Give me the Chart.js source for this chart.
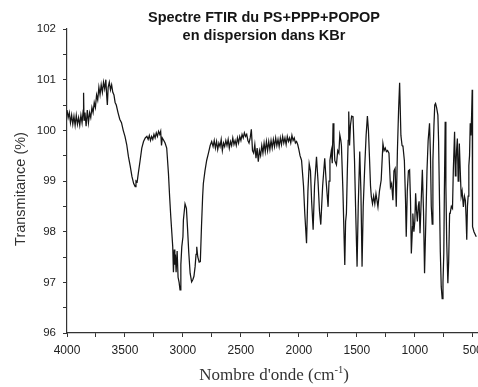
<!DOCTYPE html>
<html>
<head>
<meta charset="utf-8">
<script src="https://cdn.jsdelivr.net/npm/chart.js@4.4.1/dist/chart.umd.min.js"></script>
<style>
    html, body { margin: 0; padding: 0; background: #fff; }
    #wrap { width: 478px; height: 387px; position: relative; }
</style>
</head>
<body>
<div id="wrap"><canvas id="ftirChart"></canvas></div>
<script>
// Spectre FTIR
const titleLines = ['Spectre FTIR du PS+PPP+POPOP', 'en dispersion dans KBr'];
const yAxisTitle = 'Transmitance (%)';
const xAxisTitle = "Nombre d'onde (cm";
const xAxisSup = '-1';

const wavenumbers = [
    4000, 3990, 3980, 3970, 3960, 3950, 3940, 3930, 3920, 3910, 3900, 3890, 3880, 3870, 3860, 3857, 3853,
    3845, 3835, 3825, 3815, 3805, 3795, 3785, 3775, 3765, 3755, 3745, 3735, 3725, 3715, 3705, 3695, 3685,
    3675, 3665, 3658, 3652, 3645, 3635, 3625, 3615, 3605, 3595, 3585, 3575, 3560, 3545, 3530, 3515, 3500,
    3485, 3470, 3455, 3440, 3425, 3412, 3405, 3395, 3385, 3369, 3355, 3340, 3325, 3311, 3300, 3290, 3280,
    3270, 3260, 3250, 3240, 3230, 3220, 3210, 3200, 3192, 3185, 3178, 3165, 3154, 3140, 3125, 3115, 3105,
    3095, 3088, 3082, 3075, 3070, 3065, 3059, 3050, 3042, 3033, 3025, 3018, 3010, 3000, 2996, 2982, 2970,
    2960, 2950, 2938, 2925, 2915, 2905, 2895, 2887, 2881, 2872, 2860, 2850, 2840, 2830, 2824, 2810, 2795,
    2780, 2765, 2752, 2740, 2730, 2720, 2710, 2700, 2690, 2680, 2670, 2660, 2650, 2640, 2630, 2620, 2610,
    2600, 2590, 2580, 2570, 2560, 2550, 2540, 2530, 2520, 2510, 2500, 2490, 2480, 2470, 2460, 2450, 2440,
    2430, 2420, 2410, 2400, 2390, 2380, 2370, 2360, 2350, 2340, 2330, 2320, 2310, 2300, 2290, 2280, 2270,
    2260, 2250, 2240, 2230, 2220, 2210, 2200, 2190, 2180, 2170, 2160, 2150, 2140, 2130, 2120, 2110, 2100,
    2090, 2080, 2070, 2060, 2050, 2040, 2030, 2020, 2010, 2000, 1990, 1977, 1960, 1949, 1934, 1922, 1911,
    1900, 1890, 1877, 1865, 1848, 1835, 1822, 1811, 1795, 1777, 1765, 1748, 1740, 1732, 1720, 1712, 1705,
    1698, 1690, 1676, 1665, 1655, 1647, 1638, 1633, 1620, 1604, 1597, 1590, 1582, 1575, 1570, 1563, 1555,
    1545, 1533, 1520, 1510, 1498, 1488, 1475, 1465, 1455, 1445, 1432, 1420, 1409, 1400, 1390, 1382, 1375,
    1365, 1355, 1345, 1335, 1318, 1305, 1290, 1275, 1265, 1255, 1245, 1235, 1223, 1210, 1200, 1189, 1180,
    1170, 1160, 1150, 1140, 1131, 1120, 1110, 1102, 1090, 1080, 1074, 1065, 1055, 1045, 1037, 1030, 1020,
    1017, 1008, 1000, 993, 985, 978, 970, 963, 955, 945, 935, 925, 916, 905, 895, 885, 873, 865, 858,
    850, 844, 835, 828, 821, 812, 801, 795, 787, 780, 772, 764, 757, 750, 745, 738, 732, 725, 715, 708,
    700, 695, 685, 675, 668, 657, 650, 645, 640, 633, 626, 620, 616, 608, 600, 592, 581, 572, 564, 558,
    552, 546, 540, 534, 528, 522, 516, 510, 505, 502, 490, 470
];

const transmittance = [
    100.40, 100.25, 100.35, 100.15, 100.30, 100.12, 100.28, 100.10, 100.30, 100.12, 100.25, 100.10, 100.30, 100.15, 100.40, 100.74, 100.20,
    100.35, 100.08, 100.40, 100.15, 100.35, 100.25, 100.45, 100.35, 100.55, 100.45, 100.70, 100.60, 100.85, 100.70, 100.90, 100.75, 100.95,
    100.82, 101.00, 100.70, 100.50, 100.85, 100.95, 100.80, 100.90, 100.75, 100.70, 100.55, 100.50, 100.35, 100.22, 100.15, 100.00, 99.88,
    99.72, 99.48, 99.30, 99.09, 98.95, 98.89, 99.00, 98.98, 99.15, 99.41, 99.65, 99.78, 99.85, 99.88, 99.82, 99.90, 99.80,
    99.88, 99.82, 99.92, 99.85, 99.95, 99.88, 99.98, 99.92, 99.98, 99.70, 99.85, 99.80, 99.75, 99.65, 99.15, 98.70, 98.30,
    97.95, 97.70, 97.20, 97.65, 97.35, 97.55, 97.20, 97.62, 97.10, 97.00, 96.85, 97.35, 97.70, 97.90, 98.23, 98.55, 98.46,
    98.05, 97.60, 97.18, 97.01, 97.05, 97.12, 97.31, 97.55, 97.70, 97.50, 97.40, 97.41, 98.10, 98.70, 98.95, 99.20, 99.41,
    99.55, 99.70, 99.78, 99.68, 99.80, 99.65, 99.78, 99.62, 99.75, 99.68, 99.82, 99.60, 99.75, 99.68, 99.80, 99.70, 99.82,
    99.65, 99.78, 99.70, 99.85, 99.72, 99.80, 99.70, 99.85, 99.75, 99.88, 99.80, 99.92, 99.85, 99.95, 99.88, 99.92, 99.80,
    99.75, 99.85, 100.02, 99.60, 99.55, 99.72, 99.45, 99.65, 99.38, 99.60, 99.50, 99.70, 99.55, 99.75, 99.58, 99.78, 99.60,
    99.78, 99.62, 99.80, 99.65, 99.82, 99.68, 99.85, 99.70, 99.82, 99.68, 99.85, 99.72, 99.88, 99.75, 99.85, 99.72, 99.88,
    99.78, 99.85, 99.75, 99.90, 99.80, 99.85, 99.75, 99.78, 99.72, 99.62, 99.50, 99.41, 98.90, 98.36, 97.77, 98.80, 99.34,
    99.20, 98.60, 98.04, 98.90, 99.48, 99.00, 98.40, 98.14, 98.90, 99.45, 99.00, 98.49, 99.00, 99.41, 99.60, 99.35, 100.14,
    99.80, 99.40, 99.32, 99.60, 99.55, 99.91, 99.80, 99.70, 98.80, 97.34, 98.20, 98.36, 99.20, 99.80, 100.37, 99.70, 100.10,
    100.28, 100.27, 99.40, 98.40, 97.31, 98.50, 99.58, 98.80, 97.31, 98.50, 99.28, 99.90, 100.28, 100.00, 99.40, 98.90, 98.69,
    98.55, 98.70, 98.55, 98.75, 98.49, 98.80, 99.02, 99.74, 99.60, 99.65, 99.58, 99.60, 99.55, 98.88, 98.95, 98.62, 99.20,
    99.25, 98.49, 99.60, 100.40, 100.94, 99.90, 99.70, 99.68, 99.40, 98.60, 97.90, 98.80, 99.20, 99.22, 98.60, 97.57, 98.10,
    98.36, 98.00, 98.20, 98.76, 98.40, 98.20, 98.50, 98.60, 97.97, 98.60, 99.22, 98.40, 97.18, 98.20, 99.20, 99.80, 100.14, 99.50, 98.50,
    98.15, 99.40, 100.10, 100.50, 100.53, 100.45, 100.30, 99.80, 98.62, 97.60, 96.91, 96.68, 97.00, 97.57, 98.80, 100.17, 98.90, 97.80, 96.98, 97.40,
    98.36, 98.36, 98.50, 98.46, 99.20, 99.97, 99.10, 99.30, 99.60, 99.84, 99.00, 99.30, 99.74, 99.20, 98.70, 98.80, 98.49, 98.70, 98.62, 98.30,
    97.84, 98.50, 98.70, 99.30, 99.50, 100.14, 99.90, 100.30, 100.80, 98.10, 98.00, 97.90
];

const inkColor = '#151515';

// titre, titres d'axes (avec exposant) dessinés à la main
const labelsPlugin = {
    id: 'figureLabels',
    afterDraw(chart) {
        const ctx = chart.ctx;
        ctx.save();
        ctx.fillStyle = inkColor;
        ctx.textBaseline = 'middle';

        // titre
        ctx.textAlign = 'center';
        ctx.font = 'bold 14.5px "Liberation Sans", Arial, sans-serif';
        ctx.fillText(titleLines[0], 264, 18);
        ctx.fillText(titleLines[1], 264, 36);

        // titre axe Y
        ctx.save();
        ctx.translate(21, 189);
        ctx.rotate(-Math.PI / 2);
        ctx.font = '14.5px "Liberation Sans", Arial, sans-serif';
        ctx.fillStyle = '#333';
        ctx.fillText(yAxisTitle, 0, 0);
        ctx.restore();

        // titre axe X
        const big = '17px "Liberation Serif", "Times New Roman", serif';
        const small = '10.5px "Liberation Serif", "Times New Roman", serif';
        ctx.font = big;
        const mainW = ctx.measureText(xAxisTitle).width;
        const closeW = ctx.measureText(')').width;
        ctx.font = small;
        const supW = ctx.measureText(xAxisSup).width;
        let x = 274 - (mainW + supW + closeW) / 2;
        const y = 376;
        ctx.textAlign = 'left';
        ctx.fillStyle = '#333';
        ctx.font = big;
        ctx.fillText(xAxisTitle, x, y);
        x += mainW;
        ctx.font = small;
        ctx.fillText(xAxisSup, x, y - 6);
        x += supW;
        ctx.font = big;
        ctx.fillText(')', x, y);
        ctx.restore();
    }
};

const canvas = document.getElementById('ftirChart');
new Chart(canvas, {
    type: 'line',
    data: {
        datasets: [{
            data: wavenumbers.map((w, i) => ({ x: w, y: transmittance[i] })),
            borderColor: inkColor,
            borderWidth: 1.25,
            pointRadius: 0,
            tension: 0,
            fill: false
        }]
    },
    options: {
        responsive: true,
        maintainAspectRatio: false,
        animation: false,
        layout: { padding: { top: 29, right: 0, bottom: 0, left: 0 } },
        plugins: {
            legend: { display: false },
            tooltip: { enabled: false },
            title: { display: false }
        },
        scales: {
            x: {
                type: 'linear',
                reverse: true,
                min: 455,
                max: 4000,
                afterBuildTicks: scale => {
                    const ticks = [];
                    for (let v = 500; v <= 4000; v += 250) ticks.push({ value: v });
                    scale.ticks = ticks;
                },
                afterFit: scale => {
                    scale.height = 54;
                    scale.paddingLeft = 0;
                    scale.paddingRight = 0;
                },
                grid: {
                    drawOnChartArea: false,
                    tickLength: 4,
                    tickColor: '#333',
                    tickWidth: 1
                },
                border: { display: true, color: '#333', width: 1.2 },
                ticks: {
                    autoSkip: false,
                    maxRotation: 0,
                    padding: 6,
                    color: '#222',
                    font: { family: '"Liberation Sans", Arial, sans-serif', size: 12 },
                    callback: v => (v % 500 === 0 ? v : '')
                }
            },
            y: {
                min: 96,
                max: 102,
                afterBuildTicks: scale => {
                    const ticks = [];
                    for (let v = 96; v <= 102; v += 0.5) ticks.push({ value: v });
                    scale.ticks = ticks;
                },
                afterFit: scale => {
                    scale.width = 67;
                    scale.paddingTop = 0;
                    scale.paddingBottom = 0;
                },
                grid: {
                    drawOnChartArea: false,
                    tickLength: 4,
                    tickColor: '#333',
                    tickWidth: 1
                },
                border: { display: true, color: '#333', width: 1.2 },
                ticks: {
                    autoSkip: false,
                    padding: 7,
                    color: '#222',
                    font: { family: '"Liberation Sans", Arial, sans-serif', size: 11.5 },
                    callback: v => (v % 1 === 0 ? v : '')
                }
            }
        }
    },
    plugins: [labelsPlugin]
});
</script>
</body>
</html>
